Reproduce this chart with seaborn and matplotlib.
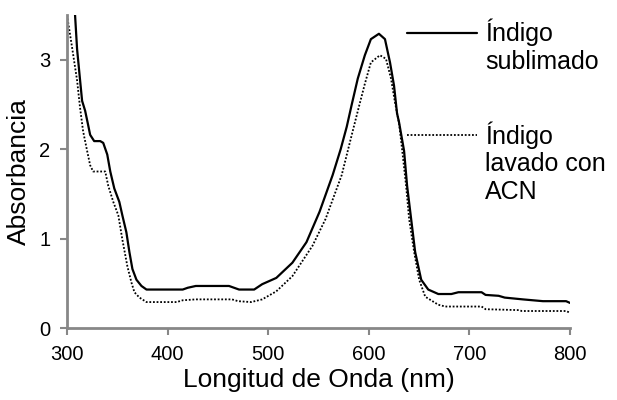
import pandas as pd
import seaborn as sns
import matplotlib.pyplot as plt
from matplotlib.lines import Line2D

# data
wl_sub = [300, 305, 308, 310, 313, 315, 318, 321, 323, 327, 333, 336, 340, 343, 347,
          352, 355, 359, 362, 365, 369, 374, 379, 415, 420, 428, 461, 466, 471, 486,
          494, 508, 524, 538, 551, 564, 572, 578, 583, 589, 596, 602, 610, 616, 621,
          625, 628, 630, 635, 638, 642, 646, 652, 659, 669, 682, 689, 712, 716, 729,
          735, 753, 773, 796, 800]
abs_sub = [3.95, 3.70, 3.50, 3.12, 2.77, 2.54, 2.43, 2.27, 2.16, 2.09, 2.09, 2.07, 1.94, 1.75, 1.56,
           1.41, 1.26, 1.07, 0.85, 0.66, 0.54, 0.47, 0.43, 0.43, 0.45, 0.47, 0.47, 0.45, 0.43, 0.43,
           0.49, 0.56, 0.73, 0.96, 1.30, 1.71, 2.00, 2.25, 2.50, 2.79, 3.05, 3.23, 3.29, 3.23, 2.97,
           2.71, 2.40, 2.30, 1.98, 1.59, 1.22, 0.85, 0.54, 0.43, 0.38, 0.38, 0.40, 0.40, 0.37, 0.36,
           0.34, 0.32, 0.30, 0.30, 0.28]

wl_acn = [300, 305, 310, 313, 316, 320, 323, 326, 338, 341, 346, 351, 355, 360, 364,
          367, 372, 379, 409, 415, 428, 464, 470, 483, 494, 508, 524, 544, 557, 573,
          583, 590, 596, 602, 611, 617, 622, 626, 630, 633, 637, 640, 645, 650, 656,
          669, 676, 712, 716, 749, 752, 796, 800]
abs_acn = [3.50, 3.14, 2.77, 2.46, 2.20, 1.98, 1.82, 1.75, 1.75, 1.59, 1.41, 1.26, 0.99, 0.69, 0.51,
           0.40, 0.34, 0.29, 0.29, 0.31, 0.32, 0.32, 0.30, 0.29, 0.32, 0.41, 0.58, 0.92, 1.22, 1.71,
           2.16, 2.47, 2.73, 2.97, 3.05, 3.01, 2.79, 2.52, 2.29, 2.00, 1.59, 1.22, 0.85, 0.54, 0.35,
           0.26, 0.24, 0.24, 0.21, 0.20, 0.19, 0.19, 0.17]

x_ticks = [300, 400, 500, 600, 700, 800]
y_ticks = [0, 1, 2, 3]

df_sub = pd.DataFrame({"wl": wl_sub, "A": abs_sub})
df_acn = pd.DataFrame({"wl": wl_acn, "A": abs_acn})

sns.set_style("ticks")
plt.rcParams["font.family"] = ["Liberation Sans", "DejaVu Sans"]
plt.rcParams["text.color"] = "black"
plt.rcParams["axes.labelcolor"] = "black"
plt.rcParams["xtick.labelcolor"] = "black"
plt.rcParams["ytick.labelcolor"] = "black"

fig, ax = plt.subplots(figsize=(6.17, 4.0), dpi=100)
fig.subplots_adjust(left=0.1086, right=0.924, top=0.9625, bottom=0.18)

sns.lineplot(data=df_sub, x="wl", y="A", color="black", lw=1.6, ax=ax, legend=False)
sns.lineplot(data=df_acn, x="wl", y="A", color="black", lw=1.3, ls=(0, (1, 1)), ax=ax, legend=False)

ax.set_xlim(300, 800)
ax.set_ylim(0, 3.5)
ax.set_xticks(x_ticks)
ax.set_yticks(y_ticks)
ax.set_xlabel("Longitud de Onda (nm)", fontsize=19, labelpad=3)
ax.set_ylabel("Absorbancia", fontsize=19, labelpad=6)
ax.tick_params(labelsize=14.5, color="#878787", width=1.5, length=5, pad=7)

for side in ["top", "right"]:
    ax.spines[side].set_visible(False)
for side in ["left", "bottom"]:
    ax.spines[side].set_color("#878787")
    ax.spines[side].set_linewidth(2)

# legend, first line of each label next to the key
sub_line, acn_line = ax.lines[0], ax.lines[1]
blank = Line2D([], [], color="none")
leg_kw = dict(frameon=False, fontsize=18, handlelength=2.8, handletextpad=0.32,
              labelspacing=0.15, borderpad=0, borderaxespad=0, loc="upper left",
              bbox_transform=fig.transFigure)
leg1 = ax.legend([sub_line, blank], ["Índigo", "sublimado"],
                 bbox_to_anchor=(0.660, 0.953), **leg_kw)
ax.add_artist(leg1)
ax.legend([acn_line, blank, blank], ["Índigo", "lavado con", "ACN"],
          bbox_to_anchor=(0.660, 0.697), **leg_kw)

plt.savefig("out.png", dpi=100)
